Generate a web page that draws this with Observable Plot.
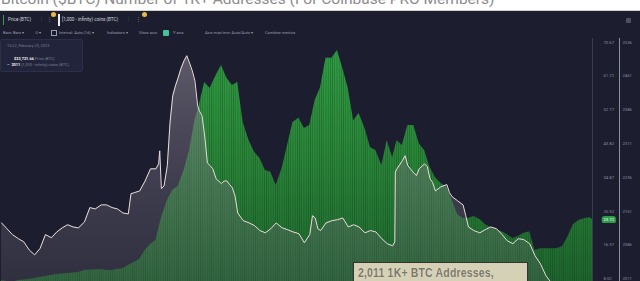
<!DOCTYPE html>
<html><head><meta charset="utf-8">
<script src="https://cdn.jsdelivr.net/npm/d3@7"></script>
<script src="https://cdn.jsdelivr.net/npm/@observablehq/plot@0.6"></script>
<style>
html,body{margin:0;padding:0;background:#1c1e2f;overflow:hidden;}
#wrap{position:relative;width:640px;height:281px;background:#1c1e2f;overflow:hidden;font-family:Roboto,"Open Sans",sans-serif;}
#title{position:absolute;left:0;top:0;width:640px;height:10px;background:#fff;overflow:hidden;border-bottom:1px solid #d0d0d0;}
#title span{position:absolute;left:1px;top:-8px;font-size:15.5px;line-height:1;color:#8d8d8d;white-space:nowrap;}
.t{position:absolute;white-space:nowrap;line-height:1;}
.r1{font-size:4.6px;color:#cfd1da;top:18px;}
.r2{font-size:4px;color:#9a9db0;top:31px;}
.sep{color:#4a4d60;}
#chart{position:absolute;left:0;top:38px;}
#tip{position:absolute;left:0;top:39px;width:83px;height:33px;background:#21243a;border:1px solid #2c2f45;border-radius:2px;box-sizing:border-box;}
#tip .t{font-size:3.9px;color:#7c8094;}
#tip b{color:#f0f0f0;font-weight:700;}
#vline{position:absolute;left:619px;top:38px;width:1px;height:243px;background:#8d8fa0;}
#cap{position:absolute;left:353px;top:262px;width:175px;height:24px;background:#d5d1b6;border:1.5px solid #35352b;box-sizing:border-box;}
#cap span{position:absolute;left:4px;top:3px;font-family:"Liberation Sans",Arial,sans-serif;font-weight:bold;font-size:12.5px;color:#7a7868;white-space:nowrap;text-shadow:0 0 1px #f4f1e2;transform:scaleX(0.84);transform-origin:0 0;letter-spacing:0.2px;}
</style>
</head><body>
<div id="wrap">
  <div id="title"><span>Bitcoin ($BTC) Number of 1K+ Addresses (For Coinbase PRO Members)</span></div>

  <div class="t" style="left:3px;top:15px;width:1px;height:10px;background:#2fa044;"></div>
  <div class="t r1" style="left:8px;">Price (BTC)</div>
  <div class="t r1 sep" style="left:41px;">|</div>
  <div class="t r1" style="left:47px;color:#888;">⋮</div>
  <div class="t" style="left:51px;top:12px;width:5px;height:5px;border-radius:50%;background:#e8b84a;"></div>
  <div class="t" style="left:58px;top:14px;width:1.5px;height:12px;background:#eee;"></div>
  <div class="t r1" style="left:62px;">[1,000 - infinity) coins (BTC)</div>
  <div class="t r1 sep" style="left:128px;">|</div>
  <div class="t r1" style="left:136px;color:#888;">⋮</div>
  <div class="t" style="left:142px;top:12px;width:5px;height:5px;border-radius:50%;background:#e8b84a;"></div>
  <div class="t" style="left:626px;top:18px;width:5px;height:5px;background:#4d5064;border-radius:1px;"></div>

  <div class="t r2" style="left:3px;">Bars: Bars ▾</div>
  <div class="t r2" style="left:35px;">⊙ ▾</div>
  <div class="t" style="left:51px;top:30px;width:4px;height:4px;border:0.7px solid #9a9db0;"></div>
  <div class="t r2" style="left:59px;">Interval: Auto (1d) ▾</div>
  <div class="t r2" style="left:107px;">Indicators ▾</div>
  <div class="t r2" style="left:139px;">Show axis</div>
  <div class="t" style="left:163px;top:29.5px;width:6px;height:6px;background:#45c29c;border-radius:1px;"></div>
  <div class="t r2" style="left:173px;">Y axis</div>
  <div class="t r2" style="left:205px;">Axis max/min: Auto/Auto ▾</div>
  <div class="t r2" style="left:265px;">Combine metrics</div>

  <div id="chart"></div>
  <div id="vline"></div>

  <div id="tip">
    <div class="t" style="left:6px;top:4px;">15:22, February 25, 2023</div>
    <div class="t" style="left:13px;top:17px;"><b>$23,721.66</b> Price (BTC)</div>
    <div class="t" style="left:6px;top:23px;"><b>–</b>&nbsp; <b>2011</b> [1,000 - infinity) coins (BTC)</div>
  </div>

  <div id="cap"><span>2,011 1K+ BTC Addresses,</span></div>
</div>
<script>
// Price (BTC), USD — green area
const priceDates = ["2020-03-01","2020-03-11","2020-03-21","2020-04-01","2020-04-11","2020-04-21","2020-05-01","2020-05-11","2020-05-21","2020-06-01","2020-06-11","2020-06-21","2020-07-01","2020-07-11","2020-07-21","2020-08-01","2020-08-11","2020-08-21","2020-09-01","2020-09-11","2020-09-21","2020-10-01","2020-10-11","2020-10-21","2020-11-01","2020-11-11","2020-11-21","2020-12-01","2020-12-11","2020-12-21","2021-01-01","2021-01-11","2021-01-21","2021-02-01","2021-02-11","2021-02-21","2021-03-01","2021-03-11","2021-03-21","2021-04-01","2021-04-11","2021-04-21","2021-05-01","2021-05-11","2021-05-21","2021-06-01","2021-06-11","2021-06-21","2021-07-01","2021-07-11","2021-07-21","2021-08-01","2021-08-11","2021-08-21","2021-09-01","2021-09-11","2021-09-21","2021-10-01","2021-10-11","2021-10-21","2021-11-01","2021-11-11","2021-11-21","2021-12-01","2021-12-11","2021-12-21","2022-01-01","2022-01-11","2022-01-21","2022-02-01","2022-02-11","2022-02-21","2022-03-01","2022-03-11","2022-03-21","2022-04-01","2022-04-11","2022-04-21","2022-05-01","2022-05-11","2022-05-21","2022-06-01","2022-06-11","2022-06-21","2022-07-01","2022-07-11","2022-07-21","2022-08-01","2022-08-11","2022-08-21","2022-09-01","2022-09-11","2022-09-21","2022-10-01","2022-10-11","2022-10-21","2022-11-01","2022-11-11","2022-11-21","2022-12-01","2022-12-11","2022-12-21","2023-01-01","2023-01-11","2023-01-21","2023-02-01","2023-02-11","2023-02-21","2023-02-25"];
const priceValues = [7570,7300,7040,7570,7700,7830,8100,8360,8630,8890,9160,9290,9420,9550,9690,10220,10350,10350,10480,10220,10220,10480,10750,11540,12330,13130,15510,17100,18160,24000,28750,31400,32460,36700,42000,49900,53900,60000,58400,61800,64500,61100,59200,60000,49400,44600,41500,39900,36700,36200,32700,37200,43300,49400,50500,47800,48600,55200,58700,66400,66400,68500,63700,58400,49900,51800,47800,42800,42000,38000,44600,40100,44600,43300,48600,48600,43800,42000,37500,34800,33300,32200,28800,25000,24000,24000,24500,23700,22400,21600,21100,20500,19700,18700,19200,20000,20500,15500,16000,16000,16000,16000,16600,19200,22400,23500,24000,24200,23720];

// [1,000 - infinity) coins addresses — white line
const addrDates = ["2020-03-01","2020-03-11","2020-03-21","2020-04-01","2020-04-11","2020-04-21","2020-05-01","2020-05-11","2020-05-21","2020-06-01","2020-06-11","2020-06-21","2020-07-01","2020-07-11","2020-07-21","2020-08-01","2020-08-11","2020-08-21","2020-09-01","2020-09-11","2020-09-21","2020-10-01","2020-10-11","2020-10-21","2020-10-26","2020-11-01","2020-11-11","2020-11-21","2020-12-01","2020-12-11","2020-12-16","2020-12-18","2020-12-21","2020-12-26","2021-01-01","2021-01-06","2021-01-11","2021-01-16","2021-01-21","2021-01-26","2021-02-01","2021-02-06","2021-02-11","2021-02-16","2021-02-21","2021-02-26","2021-03-01","2021-03-06","2021-03-11","2021-03-16","2021-03-21","2021-03-26","2021-04-01","2021-04-11","2021-04-16","2021-04-21","2021-04-26","2021-05-01","2021-05-06","2021-05-11","2021-05-21","2021-06-01","2021-06-11","2021-06-21","2021-07-01","2021-07-11","2021-07-21","2021-08-01","2021-08-11","2021-08-21","2021-09-01","2021-09-11","2021-09-21","2021-09-26","2021-10-01","2021-10-06","2021-10-11","2021-10-21","2021-11-01","2021-11-11","2021-11-21","2021-12-01","2021-12-11","2021-12-21","2022-01-01","2022-01-11","2022-01-21","2022-02-01","2022-02-11","2022-02-21","2022-02-25","2022-02-26","2022-03-01","2022-03-11","2022-03-16","2022-03-21","2022-04-01","2022-04-06","2022-04-11","2022-04-21","2022-04-26","2022-05-01","2022-05-06","2022-05-11","2022-05-21","2022-06-01","2022-06-06","2022-06-11","2022-06-21","2022-07-01","2022-07-06","2022-07-11","2022-07-21","2022-08-01","2022-08-11","2022-08-21","2022-09-01","2022-09-11","2022-09-21","2022-10-01","2022-10-11","2022-10-21","2022-11-01","2022-11-11","2022-11-21","2022-12-01","2022-12-11","2022-12-21","2023-01-01","2023-01-11","2023-01-21","2023-02-01","2023-02-11","2023-02-25"];
const addrValues = [2135,2122,2109,2100,2093,2075,2064,2078,2109,2102,2115,2124,2131,2126,2124,2137,2169,2166,2175,2175,2169,2166,2157,2155,2200,2202,2206,2228,2255,2255,2266,2295,2211,2217,2262,2357,2417,2439,2457,2477,2495,2506,2490,2473,2450,2395,2384,2373,2328,2268,2262,2255,2233,2222,2228,2228,2220,2213,2195,2157,2140,2135,2129,2118,2113,2122,2135,2124,2120,2115,2111,2091,2109,2151,2146,2122,2118,2135,2140,2142,2146,2126,2131,2126,2113,2118,2115,2100,2089,2084,2093,2248,2255,2273,2284,2262,2246,2240,2255,2266,2260,2233,2224,2206,2215,2220,2202,2193,2184,2175,2151,2126,2118,2113,2120,2126,2122,2109,2095,2089,2100,2098,2089,2062,2044,2018,2002,1989,1984,1989,1997,1995,1998,2005];

// Right-hand axis tick values
const priceTicks = [70670, 61720, 52770, 43820, 34870, 25920, 16970, 8020];
const addrTicks = [2536, 2461, 2386, 2311, 2236, 2161, 2086, 2011];

// second axis (addresses) shares the y scale through a linear mapping
const toP = a => 8020 + (a - 2011) * (62650 / 525);
const toA = p => 2011 + (p - 8020) * (525 / 62650);

const price = priceDates.map((d, i) => ({date: new Date(d), value: priceValues[i]}));
const addr = addrDates.map((d, i) => ({date: new Date(d), value: addrValues[i]}));
const last = price[price.length - 1];

const defs = () => {
  const d = d3.create("svg:defs");
  const g = d.append("linearGradient").attr("id", "greenGrad").attr("gradientUnits", "userSpaceOnUse")
    .attr("x1", 0).attr("x2", 0).attr("y1", 0).attr("y2", 243);
  g.append("stop").attr("offset", 0).attr("stop-color", "#30a044");
  g.append("stop").attr("offset", 0.5).attr("stop-color", "#298638");
  g.append("stop").attr("offset", 1).attr("stop-color", "#1e652e");
  const k = d.append("linearGradient").attr("id", "grayGrad").attr("gradientUnits", "userSpaceOnUse")
    .attr("x1", 0).attr("x2", 0).attr("y1", 0).attr("y2", 243);
  k.append("stop").attr("offset", 0).attr("stop-color", "#8c8494").attr("stop-opacity", 0.62);
  k.append("stop").attr("offset", 0.5).attr("stop-color", "#7a7383").attr("stop-opacity", 0.42);
  k.append("stop").attr("offset", 1).attr("stop-color", "#6a6573").attr("stop-opacity", 0.25);
  const p = d.append("pattern").attr("id", "stripes").attr("patternUnits", "userSpaceOnUse")
    .attr("width", 2.2).attr("height", 10);
  p.append("rect").attr("x", 0).attr("y", 0).attr("width", 0.7).attr("height", 10).attr("fill", "#0d2414").attr("fill-opacity", 0.35);
  return d.node();
};

const chart = Plot.plot({
  width: 640,
  height: 243,
  marginTop: 0, marginBottom: 0, marginLeft: 0, marginRight: 48,
  style: {background: "transparent", color: "#8c8fa2", fontFamily: "Roboto, sans-serif", overflow: "visible"},
  x: {type: "utc", domain: [new Date("2020-02-28"), new Date("2023-02-25")], axis: null},
  y: {domain: [7300, 71650], range: [243, 0]},
  marks: [
    defs,
    Plot.areaY(price, {x: "date", y1: 0, y2: "value", fill: "url(#greenGrad)", clip: true}),
    Plot.areaY(price, {x: "date", y1: 0, y2: "value", fill: "url(#stripes)", clip: true}),
    Plot.areaY(addr, {x: "date", y1: 0, y2: d => toP(d.value), fill: "url(#grayGrad)", clip: true}),
    Plot.lineY(addr, {x: "date", y: d => toP(d.value), stroke: "#eadcd8", strokeWidth: 1, clip: true}),
    Plot.frame({anchor: "right", stroke: "#3b3e52"}),
    Plot.axisY(priceTicks, {anchor: "right", label: null, tickSize: 0, tickPadding: 11, textAnchor: "start", fontSize: 4.2, fill: "#8c8fa2", tickFormat: d => (d / 1000).toFixed(2)}),
    Plot.axisY(addrTicks.map(toP), {anchor: "right", label: null, tickSize: 0, tickPadding: 30, textAnchor: "start", fontSize: 4.2, fill: "#8c8fa2", tickFormat: p => String(Math.round(toA(p)))}),
    Plot.text([last], {frameAnchor: "right", y: "value", dx: 11, textAnchor: "start", fontSize: 4.2, fill: "#ffffff", stroke: "#2e9e4a", strokeWidth: 4, strokeLinejoin: "round", text: d => (d.value / 1000).toFixed(2)})
  ]
});
document.getElementById("chart").appendChild(chart);
</script>
</body></html>
